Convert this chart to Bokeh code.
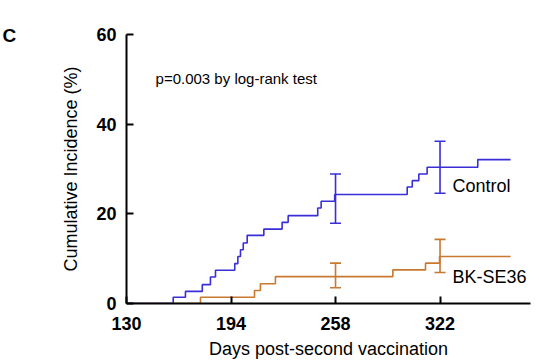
from bokeh.plotting import figure
from bokeh.models import FixedTicker, Label, Whisker, ColumnDataSource, TeeHead, Range1d
from bokeh.embed import file_html
from bokeh.resources import INLINE

# ---- data ----
ctrl_days = [130, 158.6, 166.1, 176.4, 181.4, 184.5, 196.3, 198.2, 199.8, 201.5, 203.9,
             214.1, 225.3, 229.0, 247.1, 249.2, 257.5, 301.9, 305.0, 309.0, 314.1, 345.1, 365.2]
ctrl_pct = [0, 1.4, 2.7, 4.2, 5.9, 7.4, 8.9, 10.5, 12.0, 13.5, 15.2,
            16.6, 18.1, 19.6, 21.3, 22.8, 24.3, 26.0, 27.4, 28.9, 30.4, 32.1, 32.1]

bk_days = [130, 175.3, 208.4, 212.0, 221.2, 293.1, 313.1, 321.7, 365.2]
bk_pct = [0, 1.4, 2.9, 4.4, 6.0, 7.5, 9.0, 10.5, 10.5]

err_days = [258, 322]
ctrl_lower = [17.9, 24.6]
ctrl_upper = [28.9, 36.2]
bk_lower = [3.5, 6.9]
bk_upper = [9.0, 14.3]

x_ticks = [130, 194, 258, 322]
y_ticks = [0, 20, 40, 60]

BLUE = "#3a2ed6"
ORANGE = "#c8782f"
FONT = "Liberation Sans"

p = figure(frame_width=404, frame_height=269, output_backend="svg", toolbar_location=None,
           x_range=Range1d(130, 377.4), y_range=Range1d(0, 60),
           min_border_left=126, min_border_top=34, min_border_right=1, min_border_bottom=0)
p.outline_line_color = None
p.grid.visible = False
p.background_fill_color = "white"

# panel letter "C" as the (offset) title
p.title.text = "C"
p.title.align = "left"
p.title.offset = -124
p.title.standoff = -22
p.title.text_font = FONT
p.title.text_font_size = "19px"
p.title.text_font_style = "bold"
p.title.text_color = "black"

for ax in (p.xaxis[0], p.yaxis[0]):
    ax.axis_line_width = 2
    ax.axis_line_color = "black"
    ax.major_tick_line_width = 2
    ax.major_tick_line_color = "black"
    ax.major_tick_in = 7
    ax.major_tick_out = 0
    ax.minor_tick_line_color = None
    ax.major_label_text_font = FONT
    ax.major_label_text_font_style = "bold"
    ax.major_label_text_font_size = "18px"
    ax.major_label_text_color = "black"
    ax.axis_label_text_font = FONT
    ax.axis_label_text_font_style = "normal"
    ax.axis_label_text_font_size = "18px"
    ax.axis_label_text_color = "black"

p.xaxis.ticker = FixedTicker(ticks=x_ticks)
p.yaxis.ticker = FixedTicker(ticks=y_ticks)
p.xaxis.axis_label = "Days post-second vaccination"
p.yaxis.axis_label = "Cumulative Incidence (%)"
p.xaxis.major_label_standoff = 13
p.xaxis.axis_label_standoff = 6
p.yaxis.major_label_standoff = 10
p.yaxis.axis_label_standoff = 12

p.step(bk_days, bk_pct, mode="after", line_color=ORANGE, line_width=1.6)
p.step(ctrl_days, ctrl_pct, mode="after", line_color=BLUE, line_width=1.6)

for lower, upper, col in ((ctrl_lower, ctrl_upper, BLUE), (bk_lower, bk_upper, ORANGE)):
    src = ColumnDataSource(dict(base=err_days, lower=lower, upper=upper))
    w = Whisker(source=src, base="base", lower="lower", upper="upper", dimension="height",
                line_color=col, line_width=1.6,
                upper_head=TeeHead(size=11, line_color=col, line_width=1.6),
                lower_head=TeeHead(size=11, line_color=col, line_width=1.6))
    p.add_layout(w)

p.add_layout(Label(x=329.6, y=26.3, text="Control", text_font=FONT, text_font_size="18px",
                   text_color="black", text_baseline="alphabetic"))
p.add_layout(Label(x=329.6, y=6.0, text="BK-SE36", text_font=FONT, text_font_size="18px",
                   text_color="black", text_baseline="alphabetic"))
p.add_layout(Label(x=147.8, y=50.2, text="p=0.003 by log-rank test", text_font=FONT,
                   text_font_size="15px", text_color="black", text_baseline="alphabetic"))

open("out.html", "w").write(file_html(p, INLINE))
